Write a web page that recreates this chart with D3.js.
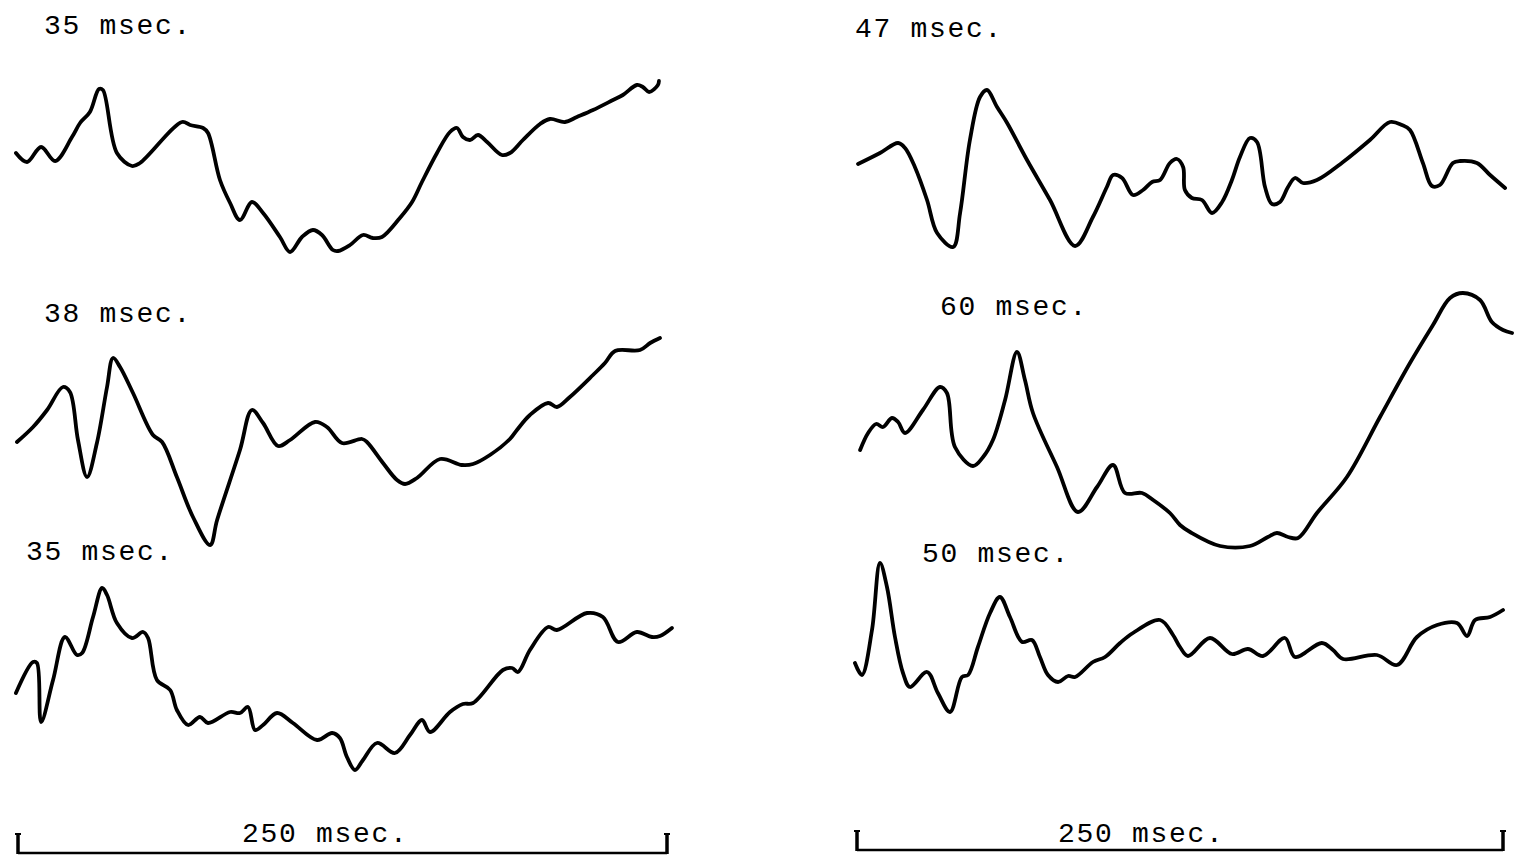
<!DOCTYPE html>
<html>
<head>
<meta charset="utf-8">
<script src="https://cdn.jsdelivr.net/npm/d3@7"></script>
<style>
  body { margin: 0; background: #fff; }
  svg { display: block; }
</style>
</head>
<body>
<svg></svg>
<script>
const width = 1522;
const height = 861;

// traces: [time in msec, amplitude (arbitrary units)]
const traceA = [[-0.8,17],[3.5,8],[8.9,23],[14.3,9],[20.8,33],[23.9,47],[27.7,58],[31.2,81],[32.7,80],[38.1,17],[43.9,4],[47.0,7],[63.2,48],[66.3,45],[71.3,42],[73.2,37],[77.8,-10],[81.7,-33],[85.5,-50],[90.1,-32],[94.4,-43],[100.9,-67],[104.8,-82],[109.4,-67],[113.6,-60],[117.1,-65],[121.3,-80],[123.3,-81],[127.9,-75],[132.9,-65],[136.7,-68],[140.2,-67],[147.1,-48],[151.8,-32],[155.6,-12],[161.4,17],[166.4,38],[169.1,42],[171.4,33],[174.1,30],[177.2,35],[180.7,28],[186.4,15],[189.5,17],[194.5,30],[201.1,46],[204.9,51],[210.7,48],[215.3,53],[221.5,60],[229.2,70],[233.0,75],[238.4,85],[240.7,83],[243.1,78],[246.5,85],[246.9,89]];
const traceB = [[-0.4,8],[5.8,23],[11.2,40],[17.3,63],[20.0,58],[23.1,10],[26.6,-27],[30.4,7],[34.3,63],[36.6,92],[39.3,83],[44.3,57],[52.0,15],[55.5,8],[61.2,-27],[67.4,-67],[74.0,-95],[76.7,-70],[85.5,0],[90.1,40],[94.4,27],[100.2,4],[104.8,10],[114.4,28],[119.0,23],[124.8,7],[132.5,11],[134.4,8],[140.6,-13],[146.0,-30],[149.1,-34],[153.7,-28],[162.6,-9],[171.0,-15],[175.3,-14],[181.8,-5],[189.5,11],[192.2,20],[197.2,35],[204.2,47],[207.6,43],[212.6,53],[221.5,75],[226.1,87],[230.0,99],[239.6,100],[243.5,107],[247.3,112]];
const traceC = [[-0.8,-3],[5.8,28],[7.3,27],[8.9,-32],[13.5,10],[18.1,53],[22.7,35],[24.7,37],[28.9,73],[32.4,102],[34.3,95],[38.1,67],[43.9,52],[48.2,58],[50.1,52],[53.5,10],[58.6,0],[61.2,-20],[65.5,-35],[70.1,-27],[73.2,-33],[81.7,-22],[85.5,-23],[88.6,-17],[91.3,-40],[94.4,-35],[99.8,-23],[105.9,-33],[115.2,-50],[121.0,-43],[124.0,-48],[126.7,-67],[129.8,-80],[132.9,-70],[138.3,-53],[145.2,-63],[151.0,-45],[155.6,-30],[158.7,-42],[166.4,-22],[171.4,-14],[175.3,-13],[186.8,20],[190.3,22],[192.6,18],[197.2,40],[204.2,63],[207.6,60],[219.2,77],[225.3,73],[231.1,48],[238.4,58],[244.2,53],[247.3,54],[251.9,62]];
const traceD = [[0.4,6],[8.9,17],[15.9,27],[18.6,22],[22.4,3],[27.1,-30],[31.0,-63],[37.2,-77],[39.9,-43],[43.7,30],[47.6,73],[50.3,80],[54.2,63],[58.1,47],[65.8,10],[74.7,-30],[84.4,-76],[91.3,-47],[96.7,-17],[99.1,-5],[102.6,-8],[106.8,-25],[110.7,-20],[114.2,-12],[117.3,-10],[121.1,7],[123.8,11],[126.2,3],[126.9,-20],[129.6,-28],[133.5,-30],[137.4,-43],[141.3,-32],[145.1,-10],[148.2,13],[152.1,32],[154.8,28],[157.9,-17],[160.6,-34],[163.7,-32],[166.8,-17],[169.5,-8],[172.6,-13],[178.0,-10],[188.1,8],[198.5,30],[206.3,48],[210.9,45],[214.0,40],[219.0,7],[222.5,-16],[225.6,-15],[230.6,7],[233.4,9],[239.9,7],[245.0,-5],[250.8,-18]];
const traceE = [[1.2,-30],[4.3,-13],[7.4,-4],[10.1,-7],[13.5,2],[15.9,-2],[18.6,-13],[25.5,10],[32.1,33],[34.8,27],[37.9,-27],[44.9,-46],[48.8,-37],[52.6,-20],[57.3,20],[61.9,68],[65.0,40],[68.1,7],[77.4,-47],[85.5,-92],[92.9,-67],[99.1,-45],[103.7,-73],[110.3,-73],[114.6,-80],[121.1,-93],[125.0,-105],[128.9,-112],[140.5,-126],[152.1,-126],[159.0,-117],[162.5,-113],[166.8,-117],[170.7,-118],[178.0,-93],[189.6,-57],[202.4,3],[214.0,57],[222.9,95],[229.5,122],[234.5,127],[241.1,120],[245.7,98],[250.0,90],[253.5,87]];
const traceF = [[-0.8,-13],[1.9,-25],[5.8,20],[8.9,87],[11.6,63],[14.7,13],[17.8,-23],[20.5,-37],[27.1,-22],[31.3,-43],[36.0,-62],[40.6,-27],[43.0,-25],[46.8,3],[51.5,37],[55.3,53],[59.2,33],[63.9,8],[67.7,10],[70.8,-7],[73.9,-25],[77.8,-32],[81.7,-26],[84.4,-27],[91.3,-12],[96.0,-7],[101.8,7],[106.8,17],[117.3,30],[122.3,15],[125.0,3],[128.1,-6],[136.6,12],[145.1,-4],[151.3,1],[157.1,-6],[165.6,12],[169.5,-7],[179.9,7],[184.2,0],[188.1,-9],[201.2,-5],[209.0,-15],[216.7,13],[224.5,25],[232.2,27],[236.1,14],[239.2,30],[245.0,33],[250.0,40]];

// labels (latency of each trace) and the time bar
const latencyLabels = ["35 msec.", "38 msec.", "35 msec.", "47 msec.", "60 msec.", "50 msec."];
const barLength = 250;
const barLabel = "250 msec.";

const svg = d3.select("svg").attr("width", width).attr("height", height);

// two columns, each with its own time scale
const panels = [
  { x0: 18, x1: 667, barY: 853, traces: [traceA, traceB, traceC], bases: [170, 450, 690],
    labelPos: [[44, 34], [44, 322], [26, 560]], barLabelX: 242 },
  { x0: 857, x1: 1503, barY: 850, traces: [traceD, traceE, traceF], bases: [170, 420, 650],
    labelPos: [[855, 37], [940, 315], [922, 562]], barLabelX: 1058 }
];

const font = "'Liberation Mono', 'Courier New', monospace";

panels.forEach((p, pi) => {
  const x = d3.scaleLinear().domain([0, barLength]).range([p.x0, p.x1]);
  const g = svg.append("g");

  p.traces.forEach((tr, i) => {
    const base = p.bases[i];
    const y = d3.scaleLinear().domain([-100, 100]).range([base + 100, base - 100]);
    const line = d3.line()
      .x(d => x(d[0]))
      .y(d => y(d[1]))
      .curve(d3.curveCatmullRom.alpha(0.5));

    g.append("path")
      .datum(tr)
      .attr("fill", "none")
      .attr("stroke", "#000")
      .attr("stroke-width", 3.8)
      .attr("stroke-linejoin", "round")
      .attr("stroke-linecap", "round")
      .attr("d", line);

    g.append("text")
      .attr("x", p.labelPos[i][0])
      .attr("y", p.labelPos[i][1])
      .style("font-family", font)
      .style("font-size", "28px")
      .style("letter-spacing", "1.7px")
      .attr("fill", "#000")
      .text(latencyLabels[pi * 3 + i]);
  });

  // time bar
  g.append("line")
    .attr("x1", x(0)).attr("x2", x(barLength))
    .attr("y1", p.barY).attr("y2", p.barY)
    .attr("stroke", "#000").attr("stroke-width", 2.5);

  [0, barLength].forEach(v => {
    g.append("line")
      .attr("x1", x(v)).attr("x2", x(v))
      .attr("y1", p.barY - 20).attr("y2", p.barY + 1)
      .attr("stroke", "#000").attr("stroke-width", 3.5);
    g.append("line")
      .attr("x1", x(v) - 3).attr("x2", x(v) + 3)
      .attr("y1", p.barY - 19).attr("y2", p.barY - 19)
      .attr("stroke", "#000").attr("stroke-width", 2);
  });

  g.append("text")
    .attr("x", p.barLabelX)
    .attr("y", 842)
    .style("font-family", font)
    .style("font-size", "28px")
    .style("letter-spacing", "1.7px")
    .attr("fill", "#000")
    .text(barLabel);
});
</script>
</body>
</html>
